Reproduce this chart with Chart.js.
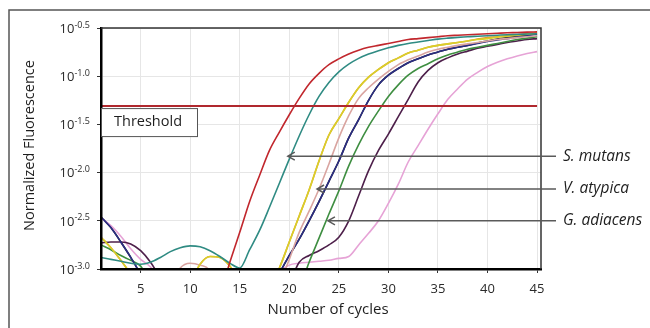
<!DOCTYPE html>
<html>
<head>
<meta charset="utf-8">
<script src="https://cdn.jsdelivr.net/npm/chart.js@4.4.1/dist/chart.umd.min.js"></script>
<style>
  html,body{margin:0;padding:0;background:#fff;}
  #wrap{width:650px;height:328px;position:relative;}
</style>
</head>
<body>
<div id="wrap"><canvas id="c" width="650" height="328"></canvas></div>
<script>
// ---- data (log10 of normalized fluorescence) ----
const cycles = Array.from({length:45},(_,i)=>i+1);
const yTicks = [-3.0,-2.5,-2.0,-1.5,-1.0,-0.5];
const xTicks = [5,10,15,20,25,30,35,40,45];
const thresholdLevel = -1.31;

const red    = [-3.3,-3.3,-3.3,-3.3,-3.3,-3.3,-3.3,-3.3,-3.3,-3.3,-3.3,-3.3,-3.25,-2.93,-2.62,-2.30,-2.03,-1.77,-1.58,-1.40,-1.23,-1.08,-0.97,-0.88,-0.82,-0.77,-0.73,-0.70,-0.68,-0.66,-0.64,-0.62,-0.61,-0.60,-0.59,-0.58,-0.575,-0.57,-0.565,-0.56,-0.555,-0.55,-0.547,-0.543,-0.54];
const teal   = [-2.88,-2.90,-2.92,-2.94,-2.95,-2.93,-2.88,-2.82,-2.78,-2.76,-2.77,-2.81,-2.87,-2.94,-2.99,-2.80,-2.60,-2.36,-2.11,-1.86,-1.62,-1.40,-1.21,-1.065,-0.955,-0.875,-0.815,-0.77,-0.735,-0.705,-0.68,-0.66,-0.645,-0.63,-0.615,-0.605,-0.597,-0.59,-0.585,-0.58,-0.575,-0.57,-0.566,-0.563,-0.56];
const yellow = [-2.67,-2.78,-2.91,-3.06,-3.3,-3.3,-3.3,-3.3,-3.3,-3.15,-2.95,-2.87,-2.88,-2.97,-3.15,-3.3,-3.3,-3.2,-2.99,-2.72,-2.45,-2.18,-1.88,-1.61,-1.44,-1.27,-1.12,-1.01,-0.93,-0.86,-0.81,-0.76,-0.73,-0.70,-0.68,-0.665,-0.65,-0.635,-0.62,-0.61,-0.595,-0.585,-0.575,-0.565,-0.555];
const tan    = [-3.3,-3.3,-3.3,-3.3,-3.3,-3.3,-3.3,-3.2,-2.99,-2.94,-2.96,-3.02,-3.3,-3.3,-3.3,-3.3,-3.3,-3.3,-3.15,-2.90,-2.62,-2.40,-2.17,-1.91,-1.64,-1.41,-1.23,-1.12,-1.03,-0.95,-0.88,-0.83,-0.79,-0.75,-0.72,-0.70,-0.68,-0.665,-0.65,-0.635,-0.62,-0.61,-0.60,-0.59,-0.58];
const blue   = [-2.46,-2.57,-2.72,-2.88,-3.06,-3.3,-3.3,-3.3,-3.3,-3.3,-3.3,-3.3,-3.3,-3.3,-3.3,-3.3,-3.3,-3.3,-3.05,-2.86,-2.69,-2.50,-2.30,-2.09,-1.88,-1.64,-1.45,-1.25,-1.09,-0.99,-0.92,-0.86,-0.82,-0.78,-0.75,-0.72,-0.70,-0.68,-0.66,-0.64,-0.625,-0.61,-0.595,-0.58,-0.565];
const green  = [-2.75,-2.80,-2.86,-2.91,-2.97,-3.15,-3.3,-3.3,-3.3,-3.3,-3.3,-3.3,-3.3,-3.3,-3.3,-3.3,-3.3,-3.3,-3.3,-3.3,-3.2,-2.93,-2.68,-2.43,-2.19,-1.93,-1.71,-1.52,-1.36,-1.21,-1.09,-0.99,-0.92,-0.87,-0.82,-0.78,-0.75,-0.72,-0.70,-0.68,-0.66,-0.64,-0.62,-0.605,-0.59];
const purple = [-2.73,-2.72,-2.72,-2.74,-2.81,-2.93,-3.1,-3.3,-3.3,-3.3,-3.3,-3.3,-3.3,-3.3,-3.3,-3.3,-3.3,-3.3,-3.3,-3.15,-2.93,-2.86,-2.81,-2.75,-2.67,-2.50,-2.24,-1.98,-1.77,-1.60,-1.42,-1.24,-1.06,-0.94,-0.86,-0.81,-0.77,-0.74,-0.71,-0.69,-0.67,-0.65,-0.635,-0.62,-0.61];
const pink   = [-2.47,-2.55,-2.66,-2.79,-2.90,-2.98,-3.15,-3.3,-3.3,-3.3,-3.3,-3.3,-3.3,-3.3,-3.3,-3.3,-3.3,-3.3,-3.04,-2.96,-2.94,-2.93,-2.92,-2.91,-2.89,-2.87,-2.75,-2.63,-2.50,-2.32,-2.12,-1.89,-1.72,-1.55,-1.39,-1.24,-1.13,-1.03,-0.96,-0.90,-0.855,-0.82,-0.79,-0.765,-0.745];
const orange = [-2.67,-2.78,-2.91,-3.06,-3.3,-3.3,-3.3,-3.3,-3.3,-3.15,-2.95,-2.87,-2.88,-2.97,-3.15,-3.3,-3.3,-3.2,-2.99,-2.72,-2.45,-2.18,-1.88,-1.61,-1.44,-1.27,-1.12,-1.01,-0.93,-0.86,-0.81,-0.76,-0.73,-0.70,-0.68,-0.665,-0.65,-0.635,-0.615,-0.60,-0.59,-0.58,-0.57,-0.56,-0.55];
const black  = [-2.46,-2.57,-2.72,-2.88,-3.06,-3.3,-3.3,-3.3,-3.3,-3.3,-3.3,-3.3,-3.3,-3.3,-3.3,-3.3,-3.3,-3.3,-3.05,-2.86,-2.69,-2.50,-2.30,-2.09,-1.88,-1.64,-1.45,-1.25,-1.09,-0.99,-0.92,-0.86,-0.82,-0.78,-0.75,-0.72,-0.70,-0.68,-0.655,-0.635,-0.615,-0.60,-0.585,-0.572,-0.56];

const arrowLabels = ['S. mutans','V. atypica','G. adiacens'];
const arrowTipCycle = [19.85, 22.8, 23.9];
const arrowLevel = [-1.83, -2.17, -2.50];

// ---- build datasets ----
const series = [
  {name:'threshold', vals: cycles.map(()=>thresholdLevel), color:'#b0282e', w:2},
  {name:'red', vals: red, color:'#c1272d', w:1.6},
  {name:'teal', vals: teal, color:'#2f8b83', w:1.6},
  {name:'yellow', vals: yellow, color:'#d8d02a', w:1.6},
  {name:'tan', vals: tan, color:'#d9a4a0', w:1.6},
  {name:'blue', vals: blue, color:'#2b2d84', w:1.6},
  {name:'green', vals: green, color:'#3e8e41', w:1.6},
  {name:'purple', vals: purple, color:'#4d1f4a', w:1.6},
  {name:'pink', vals: pink, color:'#e6a3d6', w:1.6},
  {name:'orange', vals: orange, color:'#e8952a', w:1.6},
  {name:'black', vals: black, color:'#222222', w:1.6}
];
const datasets = series.map(s=>({
  label: s.name,
  data: cycles.map((c,i)=>({x:c, y:s.vals[i]})),
  borderColor: s.color,
  borderWidth: s.w,
  pointRadius: 0,
  fill: false,
  cubicInterpolationMode: s.name==='threshold' ? 'default' : 'monotone',
  tension: 0
}));

const FONT = '"Open Sans", Lato, sans-serif';

const decor = {
  id:'decor',
  afterDraw(chart){
    const ctx = chart.ctx;
    const a = chart.chartArea;
    const xs = chart.scales.x, ys = chart.scales.y;
    ctx.save();
    // outer frame
    ctx.strokeStyle = '#555';
    ctx.lineWidth = 1.5;
    ctx.strokeRect(9, 10, 1000, 1000);
    // top/right plot border
    ctx.strokeStyle = '#333';
    ctx.lineWidth = 1.5;
    ctx.beginPath();
    ctx.moveTo(a.left, a.top); ctx.lineTo(a.right, a.top); ctx.lineTo(a.right, a.bottom);
    ctx.stroke();

    // y tick labels 10^exp
    ctx.fillStyle = '#2a2a2a';
    ys.ticks.forEach(t=>{
      const y = ys.getPixelForValue(t.value);
      const exp = t.value.toFixed(1);
      ctx.font = '9px ' + FONT;
      ctx.textAlign = 'right';
      ctx.textBaseline = 'middle';
      const ex = a.left - 11;
      ctx.fillText(exp, ex, y - 3);
      const ew = ctx.measureText(exp).width;
      ctx.font = '13px ' + FONT;
      ctx.fillText('10', ex - ew, y + 1);
    });

    // axis titles
    ctx.fillStyle = '#1e1e1e';
    ctx.font = '15px ' + FONT;
    ctx.textAlign = 'center';
    ctx.textBaseline = 'middle';
    ctx.fillText('Number of cycles', (a.left + a.right)/2 + 7, 310);
    ctx.save();
    ctx.translate(30, (a.top + a.bottom)/2 - 3);
    ctx.rotate(-Math.PI/2);
    ctx.font = '14.5px ' + FONT;
    ctx.fillText('Normalized Fluorescence', 0, 0);
    ctx.restore();

    // threshold box
    const ty = ys.getPixelForValue(thresholdLevel);
    ctx.fillStyle = '#fff';
    ctx.fillRect(a.left, ty + 2, 96, 28);
    ctx.strokeStyle = '#555';
    ctx.lineWidth = 1;
    ctx.strokeRect(a.left + 0.5, ty + 2.5, 96, 28);
    ctx.fillStyle = '#1e1e1e';
    ctx.font = '14.5px ' + FONT;
    ctx.textAlign = 'left';
    ctx.fillText('Threshold', a.left + 13, ty + 16);

    // arrows
    arrowLabels.forEach((lab,i)=>{
      const tx = xs.getPixelForValue(arrowTipCycle[i]);
      const yy = ys.getPixelForValue(arrowLevel[i]);
      const ex = a.right + 15;
      ctx.strokeStyle = '#5a5a5a';
      ctx.lineWidth = 1.5;
      ctx.beginPath();
      ctx.moveTo(ex, yy); ctx.lineTo(tx, yy);
      ctx.moveTo(tx + 7, yy - 4); ctx.lineTo(tx, yy); ctx.lineTo(tx + 7, yy + 4);
      ctx.stroke();
      ctx.fillStyle = '#1e1e1e';
      ctx.font = 'italic 15.5px ' + FONT;
      ctx.textAlign = 'left';
      ctx.textBaseline = 'middle';
      ctx.fillText(lab, a.right + 22, yy);
    });
    ctx.restore();
  }
};

new Chart(document.getElementById('c'), {
  type: 'line',
  data: { datasets },
  options: {
    responsive: false,
    animation: false,
    events: [],
    layout: { padding: { left: 0, top: 28, right: 109, bottom: 0 } },
    plugins: { legend: { display: false }, tooltip: { enabled: false } },
    scales: {
      x: {
        type: 'linear', min: 1, max: 45.4,
        afterBuildTicks: s => { s.ticks = xTicks.map(v=>({value:v})); },
        afterFit: s => { s.height = 59; },
        grid: { color: '#e6e6e6', lineWidth: 1, tickLength: 4, tickColor: '#333' },
        border: { display: true, color: '#000', width: 2.5, z: 1 },
        ticks: { color: '#2a2a2a', font: { family: FONT, size: 13 }, padding: 8, maxRotation: 0 }
      },
      y: {
        type: 'linear', min: -3.0, max: -0.5,
        afterBuildTicks: s => { s.ticks = yTicks.map(v=>({value:v})); },
        afterFit: s => { s.width = 101; },
        grid: { color: '#e6e6e6', lineWidth: 1, tickLength: 4, tickColor: '#333' },
        border: { display: true, color: '#000', width: 2.5, z: 1 },
        ticks: { display: false }
      }
    }
  },
  plugins: [decor]
});
</script>
</body>
</html>
